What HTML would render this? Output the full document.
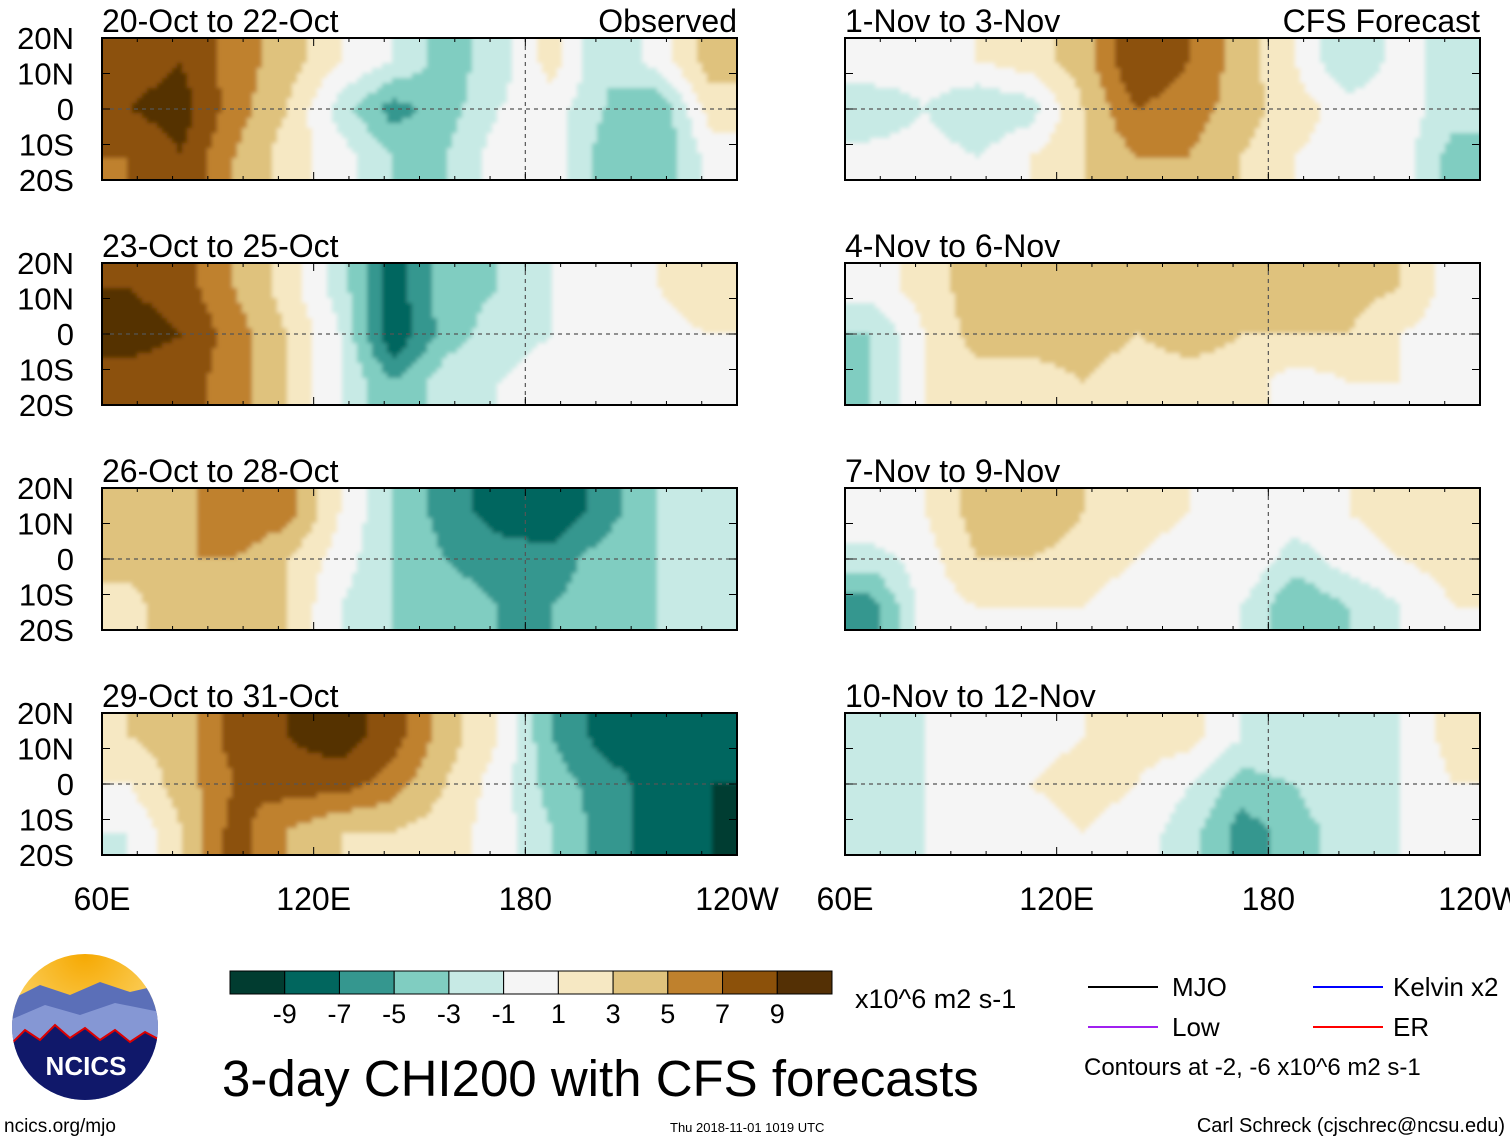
<!DOCTYPE html>
<html><head><meta charset="utf-8"><style>
body{margin:0;background:#fff;}
svg{display:block;font-family:"Liberation Sans",sans-serif;}
</style></head><body>
<svg id="chart" width="1510" height="1142" viewBox="0 0 1510 1142">
<defs><filter id="blur" x="-5%" y="-10%" width="110%" height="120%"><feGaussianBlur stdDeviation="2"/></filter>
<radialGradient id="sky" cx="0.5" cy="0" r="0.8"><stop offset="0" stop-color="#f6a800"/><stop offset="1" stop-color="#fde28a"/></radialGradient>
<clipPath id="logoclip"><circle cx="85" cy="1027" r="73"/></clipPath></defs>
<g id="panels"></g>
<g id="colorbar"></g>
<text x="855" y="1008" font-size="27">x10^6 m2 s-1</text>
<text x="222" y="1096" font-size="51">3-day CHI200 with CFS forecasts</text>
<g font-size="26">
<line x1="1088" y1="987" x2="1158" y2="987" stroke="#000" stroke-width="2"/><text x="1172" y="996">MJO</text>
<line x1="1313" y1="987" x2="1383" y2="987" stroke="#00f" stroke-width="2"/><text x="1393" y="996">Kelvin x2</text>
<line x1="1088" y1="1027" x2="1158" y2="1027" stroke="#a020f0" stroke-width="2"/><text x="1172" y="1036">Low</text>
<line x1="1313" y1="1027" x2="1383" y2="1027" stroke="#f00" stroke-width="2"/><text x="1393" y="1036">ER</text>
<text x="1084" y="1075" font-size="24">Contours at -2, -6 x10^6 m2 s-1</text>
</g>
<g>
<g clip-path="url(#logoclip)">
<rect x="10" y="952" width="150" height="150" fill="url(#sky)"/>
<path d="M10 1000 L40 985 L70 995 L100 982 L130 992 L160 985 L160 1102 L10 1102Z" fill="#5b6fb8"/>
<path d="M10 1020 L45 1005 L80 1015 L115 1003 L160 1012 L160 1102 L10 1102Z" fill="#8597d4"/>
<path d="M10 1045 L25 1030 L40 1040 L55 1025 L70 1038 L85 1028 L100 1040 L115 1030 L130 1042 L145 1032 L160 1040 L160 1102 L10 1102Z" fill="#10186a" stroke="#d00" stroke-width="2"/>
</g>
<text x="86" y="1075" font-size="26" font-weight="bold" fill="#fff" text-anchor="middle">NCICS</text>
</g>
<text x="4" y="1132" font-size="19">ncics.org/mjo</text>
<text x="670" y="1132" font-size="13">Thu 2018-11-01 1019 UTC</text>
<text x="1505" y="1132" font-size="20" text-anchor="end">Carl Schreck (cjschrec@ncsu.edu)</text>
</svg>
<script>
const levels=[-9,-7,-5,-3,-1,1,3,5,7,9];
const binColors=["#013c30","#01665e","#35978f","#80cdc1","#c7eae5","#f5f5f5","#f6e8c3","#dfc27d","#bf812d","#8c510a","#543005"];
const panelTitles=["20-Oct to 22-Oct","23-Oct to 25-Oct","26-Oct to 28-Oct","29-Oct to 31-Oct","1-Nov to 3-Nov","4-Nov to 6-Nov","7-Nov to 9-Nov","10-Nov to 12-Nov"];
const latLabels=["20N","10N","0","10S","20S"];
const lonLabels=["60E","120E","180","120W"];
const p1=[[8,9,6,4,1,-1,-4,-2,2,-3,0,4],[9,10,6,3,-2,-6,-4,-1,0,-3,-5,2],[7,9,5,2,0,-3,-3,0,0,-4,-5,0]];
const p2=[[9,8,5,2,-2,-8,-4,-3,-1,0,1,3],[10,9,6,3,-1,-9,-4,-2,-1,0,0,1],[8,8,6,3,-1,-5,-2,-1,0,0,0,1]];
const p3=[[5,4,7,6,1,-3,-6,-8,-9,-6,-3,-2],[4,5,5,3,0,-3,-5,-6,-6,-4,-3,-2],[2,5,5,3,-1,-3,-4,-5,-5,-4,-3,-2]];
const p4=[[3,4,8,9,10,8,4,1,-5,-8,-8,-8],[1,4,7,8,8,6,3,0,-4,-6,-8,-9],[-1,3,8,5,3,3,2,0,-3,-6,-8,-9]];
const p5=[[1,0,1,2,4,9,7,4,1,-3,0,-2],[-3,-1,-3,-2,3,7,6,4,2,0,0,-2],[0,0,-1,1,3,5,5,3,1,0,0,-4]];
const p6=[[0,2,4,4,4,4,4,4,3,4,3,0],[-3,1,4,4,4,3,4,3,3,3,1,0],[-3,1,2,2,3,2,2,2,0,1,1,0]];
const p7=[[1,1,4,5,3,2,1,1,0,1,2,3],[-2,0,3,3,2,1,0,1,-2,0,1,2],[-6,0,1,1,1,0,0,-1,-5,-3,-1,1]];
const p8=[[-1,-1,1,0,1,2,2,-1,-1,-1,-1,2],[-2,-1,0,1,2,1,-1,-4,-3,-1,-1,1],[-1,-1,0,0,1,0,-2,-6,-4,-2,-1,0]];
const fields=[p1,p2,p3,p4,p5,p6,p7,p8];
const NS="http://www.w3.org/2000/svg";
function mk(tag,attrs,parent){const e=document.createElementNS(NS,tag);for(const k in attrs)e.setAttribute(k,attrs[k]);parent.appendChild(e);return e;}
function colorFor(v){let i=0;while(i<levels.length&&v>levels[i])i++;return binColors[i];}
function sample(f,fx,fy){const nr=f.length,nc=f[0].length;
  fx=Math.max(0,Math.min(nc-1,fx));fy=Math.max(0,Math.min(nr-1,fy));
  const x0=Math.floor(fx),y0=Math.floor(fy),x1=Math.min(nc-1,x0+1),y1=Math.min(nr-1,y0+1),dx=fx-x0,dy=fy-y0;
  const a=f[y0][x0]*(1-dx)+f[y0][x1]*dx,b=f[y1][x0]*(1-dx)+f[y1][x1]*dx;return a*(1-dy)+b*dy;}
const colX=[102,845],rowY=[38,263,488,713],PW=635,PH=142;
function lonX(x0,lon){return x0+(lon-60)/180*PW;}
function latY(y0,lat){return y0+(20-lat)/40*PH;}
const panelsG=document.getElementById('panels');
fields.forEach((f,pi)=>{
  const c=pi<4?0:1,r=pi%4,x0=colX[c],y0=rowY[r];
  const g=mk('g',{},panelsG);
  
  
  const cp=mk('clipPath',{id:'cp'+pi},g);mk('rect',{x:x0,y:y0,width:PW,height:PH},cp);
  const inner=mk('g',{'clip-path':'url(#cp'+pi+')'},g);
  const fg=mk('g',{filter:'url(#blur)'},inner);
  const nr=f.length,nc=f[0].length,cw=180/nc,rh=40/nr;
  const step=5;
  for(let py=y0-10;py<y0+PH+10;py+=step){
    const lat=20-(py+step/2-y0)/PH*40;const fy=(20-lat)/rh-0.5;
    for(let px=x0-10;px<x0+PW+10;px+=step){
      const lon=60+(px+step/2-x0)/PW*180;const fx=(lon-60)/cw-0.5;
      const v=sample(f,fx,fy);
      mk('rect',{x:px,y:py,width:step+0.6,height:step+0.6,fill:colorFor(v)},fg);
    }
  }
  mk('line',{x1:x0,y1:latY(y0,0),x2:x0+PW,y2:latY(y0,0),stroke:'#555','stroke-dasharray':'4,4','stroke-width':1.2},g);
  mk('line',{x1:lonX(x0,180),y1:y0,x2:lonX(x0,180),y2:y0+PH,stroke:'#555','stroke-dasharray':'4,4','stroke-width':1.2},g);
  mk('rect',{x:x0,y:y0,width:PW,height:PH,fill:'none',stroke:'#000','stroke-width':2},g);
  for(let k=0;k<=18;k++){const xx=x0+k*PW/18;mk('line',{x1:xx,y1:y0,x2:xx,y2:y0+(k%6===0?8:4),stroke:'#000'},g);mk('line',{x1:xx,y1:y0+PH,x2:xx,y2:y0+PH-(k%6===0?8:4),stroke:'#000'},g);}
  for(let k=0;k<=4;k++){const yy=y0+k*PH/4;mk('line',{x1:x0,y1:yy,x2:x0+8,y2:yy,stroke:'#000'},g);mk('line',{x1:x0+PW,y1:yy,x2:x0+PW-8,y2:yy,stroke:'#000'},g);}
  const t=mk('text',{x:x0,y:y0-6,'font-size':32},g);t.textContent=panelTitles[pi];
  
  
  if(pi===0||pi===4){const t2=mk('text',{x:x0+PW,y:y0-6,'font-size':32,'text-anchor':'end'},g);t2.textContent=pi===0?'Observed':'CFS Forecast';
    
    }
  if(c===0){latLabels.forEach((l,k)=>{const tt=mk('text',{x:74,y:y0+k*PH/4+11,'font-size':31,'text-anchor':'end'},g);tt.textContent=l;
    
    });}
  if(r===3){lonLabels.forEach((l,k)=>{const tt=mk('text',{x:x0+k*PW/3,y:910,'font-size':32,'text-anchor':'middle'},g);tt.textContent=l;
    
    });}
});
const cb=document.getElementById('colorbar');
const bw=602/binColors.length;
binColors.forEach((col,i)=>{const b=mk('rect',{x:230+i*bw,y:971,width:bw,height:23,fill:col,stroke:'#000','stroke-width':1},cb);
  
  });
levels.forEach((l,i)=>{const t=mk('text',{x:230+(i+1)*bw,y:1023,'font-size':27,'text-anchor':'middle'},cb);t.textContent=l;
  
  });
</script>
</body></html>
